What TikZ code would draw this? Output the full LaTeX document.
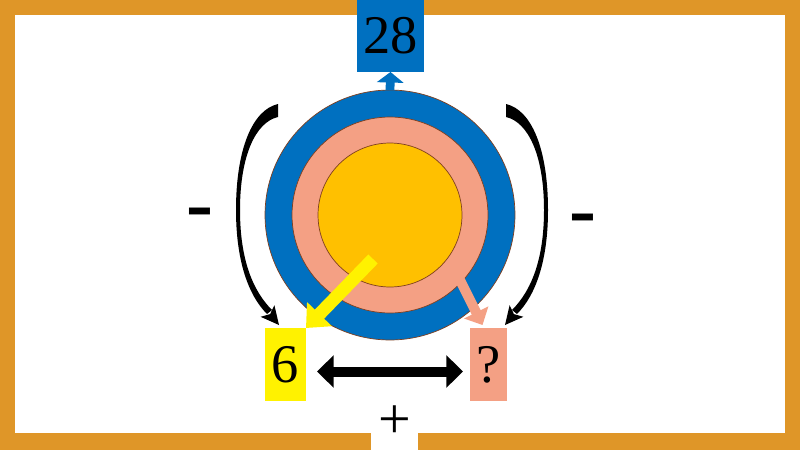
\documentclass[tikz,border=0pt]{standalone}
\usepackage{fontspec}
\setmainfont{Liberation Serif}
\usepackage{xcolor}
\definecolor{frameorange}{HTML}{DF9628}
\definecolor{ringblue}{HTML}{0070C0}
\definecolor{ringsalmon}{HTML}{F4A084}
\definecolor{ringgold}{HTML}{FFC000}
\definecolor{ringedge}{HTML}{7F3F1F}
\usetikzlibrary{arrows.meta,calc}
% tapered bracket arrow on the left side, mirrored for the right side
\newcommand{\sidearc}{%
  \fill (278,104) .. controls (252,110) and (236,150) .. (236,210) .. controls (236,260) and (248,295) .. (267,314) -- (272,310) .. controls (253,291) and (240,260) .. (240,210) .. controls (240,155) and (256,122) .. (278,117) -- cycle;
  \fill (279,325) -- (260.6,316.8) -- (270.1,314.1) -- (274.4,305.2) -- cycle;}

\begin{document}
\begin{tikzpicture}[x=0.02cm,y=-0.02cm,
    numbox/.style={inner sep=0pt, outer sep=0pt, font=\fontsize{31}{31}\selectfont},
    ring/.style={circle, draw=ringedge, line width=0.4pt, inner sep=0pt, outer sep=0pt},
    sign/.style={inner sep=0pt, font=\fontsize{46}{46}\selectfont\bfseries}]
    \useasboundingbox (0,0) rectangle (800,450);

    \fill[frameorange] (0,0) rectangle (800,450);
    \fill[white] (15,15) rectangle (785,433);

    \node[fill=white, inner sep=0pt, minimum width=0.94cm, minimum height=1.12cm, font=\fontsize{33}{33}\selectfont] (plus) at (394.5,422) {+};
    \node[numbox, fill=ringblue, minimum width=1.34cm, minimum height=1.44cm] (sum) at (390.5,36) {28};

    \node[ring, fill=ringblue, minimum size=5cm] (outer) at (390,215) {};
    \node[ring, fill=ringsalmon, minimum size=3.92cm] (middle) at (390,215) {};
    \node[ring, fill=ringgold, minimum size=2.88cm] (core) at (390,215) {};

    \node[numbox, fill=yellow, minimum width=0.82cm, minimum height=1.46cm] (six) at (285.5,364.5) {6};
    \node[numbox, fill=ringsalmon, minimum width=0.74cm, minimum height=1.46cm] (unk) at (488.5,364.5) {?};

    \draw[ringblue, line width=5pt, -{Triangle[width=15pt,length=6pt]}] (outer.north) -- (sum.south);

    \coordinate (ystart) at (373,259);
    \draw[yellow, line width=7.4pt, -{Triangle[width=19pt,length=11pt]}] (ystart) -- (six.north east);

    \coordinate (sstart) at (460,280);
    \draw[ringsalmon, line width=5.7pt, -{Triangle[width=15pt,length=8pt]}] (sstart) -- ([shift={(-6,-3)}]unk.north);

    \draw[black, line width=5.7pt, {Triangle[width=18pt,length=9.5pt]}-{Triangle[width=18pt,length=9.5pt]}] ([shift={(11,7)}]six.east) -- ([shift={(-7,7)}]unk.west);

    \sidearc
    \begin{scope}[shift={(784,0)},xscale=-1]
        \sidearc
    \end{scope}

    \node[sign] (minusL) at (200,219) {-};
    \node[sign] (minusR) at (583,225) {-};
\end{tikzpicture}
\end{document}
